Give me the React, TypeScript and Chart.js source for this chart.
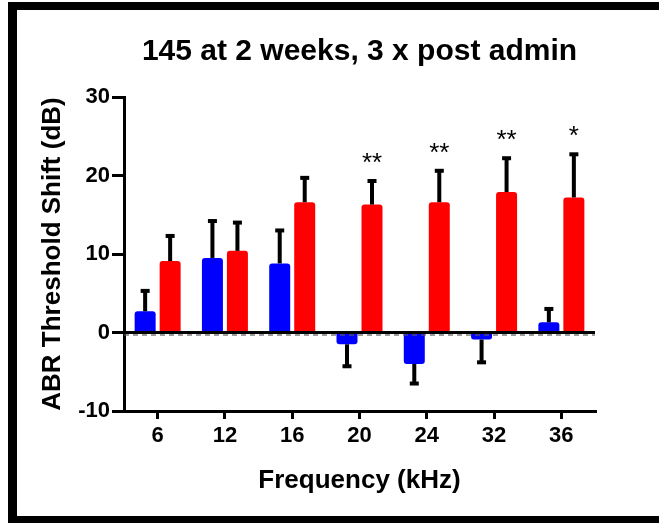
import React, { useEffect, useRef } from "react";
import { Chart, registerables } from "chart.js";

Chart.register(...registerables);

const chartTitle = "145 at 2 weeks, 3 x post admin";
const xAxisTitle = "Frequency (kHz)";
const yAxisTitle = "ABR Threshold Shift (dB)";
const categories = ["6", "12", "16", "20", "24", "32", "36"];
const blueMeans = [2.7, 9.5, 8.8, -1.5, -4.0, -0.9, 1.3];
const blueErrors = [2.6, 4.7, 4.2, 2.8, 2.5, 2.9, 1.7];
const redMeans = [9.1, 10.4, 16.6, 16.3, 16.6, 17.9, 17.2];
const redErrors = [3.2, 3.6, 3.1, 3.0, 4.0, 4.3, 5.5];
const redSignificance = ["", "", "", "**", "**", "**", "*"];
const yTickValues = [-10, 0, 10, 20, 30];

const FONT = "'Liberation Sans', Arial, sans-serif";

export default function App() {
  const ref = useRef<HTMLCanvasElement>(null);

  useEffect(() => {
    const canvas = ref.current;
    if (!canvas) return;

    const errorSets = [blueErrors, redErrors];
    const meanSets = [blueMeans, redMeans];

    const overlay = {
      id: "overlay",
      afterDatasetsDraw(chart: any) {
        const ctx = chart.ctx;
        const ys = chart.scales.y;
        const area = chart.chartArea;
        const y0 = ys.getPixelForValue(0);
        ctx.save();
        // zero line
        ctx.fillStyle = "#000";
        ctx.fillRect(area.left, y0 - 1.5, area.right - area.left, 3);
        ctx.strokeStyle = "rgba(90,90,90,0.8)";
        ctx.lineWidth = 1.5;
        ctx.setLineDash([5, 4]);
        ctx.beginPath();
        ctx.moveTo(area.left, y0 + 2.5);
        ctx.lineTo(area.right, y0 + 2.5);
        ctx.stroke();
        ctx.setLineDash([]);

        // error bars
        ctx.fillStyle = "#000";
        for (let d = 0; d < 2; d++) {
          const meta = chart.getDatasetMeta(d);
          meta.data.forEach((bar: any, i: number) => {
            const m = meanSets[d][i];
            const e = errorSets[d][i];
            const end = m >= 0 ? m + e : m - e;
            const yEnd = ys.getPixelForValue(end);
            const yStart = bar.y;
            const top = Math.min(yStart, yEnd);
            const h = Math.abs(yEnd - yStart);
            ctx.fillRect(bar.x - 2, top, 4, h);
            ctx.fillRect(bar.x - 4.5, yEnd - 2, 9, 4);
          });
        }

        // significance
        const redMeta = chart.getDatasetMeta(1);
        ctx.font = "26px " + FONT;
        ctx.textAlign = "center";
        ctx.textBaseline = "alphabetic";
        redMeta.data.forEach((bar: any, i: number) => {
          const s = redSignificance[i];
          if (!s) return;
          const yEnd = ys.getPixelForValue(redMeans[i] + redErrors[i]);
          ctx.fillText(s, bar.x, yEnd - 10);
        });
        ctx.restore();
      },
      afterDraw(chart: any) {
        const ctx = chart.ctx;
        const area = chart.chartArea;
        ctx.save();
        ctx.fillStyle = "#000";
        ctx.font = "bold 30px " + FONT;
        ctx.textAlign = "center";
        ctx.textBaseline = "alphabetic";
        ctx.fillText(chartTitle, (area.left + area.right) / 2, 60);
        // frame
        ctx.fillRect(8, 2, 651, 8);
        ctx.fillRect(8, 2, 9, 521);
        ctx.fillRect(8, 516, 651, 7);
        ctx.restore();
      },
    };

    const chart = new Chart(canvas, {
      type: "bar",
      data: {
        labels: categories,
        datasets: [
          {
            data: blueMeans,
            backgroundColor: "#0000ff",
            borderRadius: 3,
            borderSkipped: "start",
            categoryPercentage: 0.743,
            barPercentage: 0.84,
          },
          {
            data: redMeans,
            backgroundColor: "#ff0000",
            borderRadius: 3,
            borderSkipped: "start",
            categoryPercentage: 0.743,
            barPercentage: 0.84,
          },
        ],
      },
      options: {
        responsive: false,
        animation: false,
        devicePixelRatio: 1,
        layout: { padding: { left: 0, right: 64, top: 97, bottom: 0 } },
        plugins: {
          legend: { display: false },
          title: { display: false },
          tooltip: { enabled: false },
        },
        scales: {
          x: {
            type: "category",
            offset: true,
            grid: {
              offset: false,
              drawOnChartArea: false,
              drawTicks: true,
              tickLength: 8,
              lineWidth: 3,
              color: "#000",
            },
            border: { display: true, color: "#000", width: 3 },
            ticks: {
              color: "#000",
              padding: 4,
              font: { family: FONT, size: 22, weight: "bold" },
              maxRotation: 0,
            },
            title: {
              display: true,
              text: xAxisTitle,
              color: "#000",
              font: { family: FONT, size: 26, weight: "bold" },
              padding: { top: 0, bottom: 27 },
            },
            afterFit(scale: any) {
              scale.height = 112;
            },
          },
          y: {
            min: -10,
            max: 30,
            afterBuildTicks(scale: any) {
              scale.ticks = yTickValues.map((v) => ({ value: v }));
            },
            grid: {
              drawOnChartArea: false,
              drawTicks: true,
              tickLength: 12,
              lineWidth: 3,
              color: "#000",
            },
            border: { display: true, color: "#000", width: 3 },
            ticks: {
              color: "#000",
              padding: 2,
              font: { family: FONT, size: 22, weight: "bold" },
            },
            title: {
              display: true,
              text: yAxisTitle,
              color: "#000",
              font: { family: FONT, size: 26, weight: "bold" },
              padding: { top: 37, bottom: 0 },
            },
            afterFit(scale: any) {
              scale.width = 124;
            },
          },
        },
      },
      plugins: [overlay],
    });

    return () => chart.destroy();
  }, []);

  return (
    <div
      style={{
        position: "absolute",
        left: 0,
        top: 0,
        width: 659,
        height: 523,
        background: "#fff",
      }}
    >
      <canvas ref={ref} width={659} height={523} style={{ display: "block" }} />
    </div>
  );
}
